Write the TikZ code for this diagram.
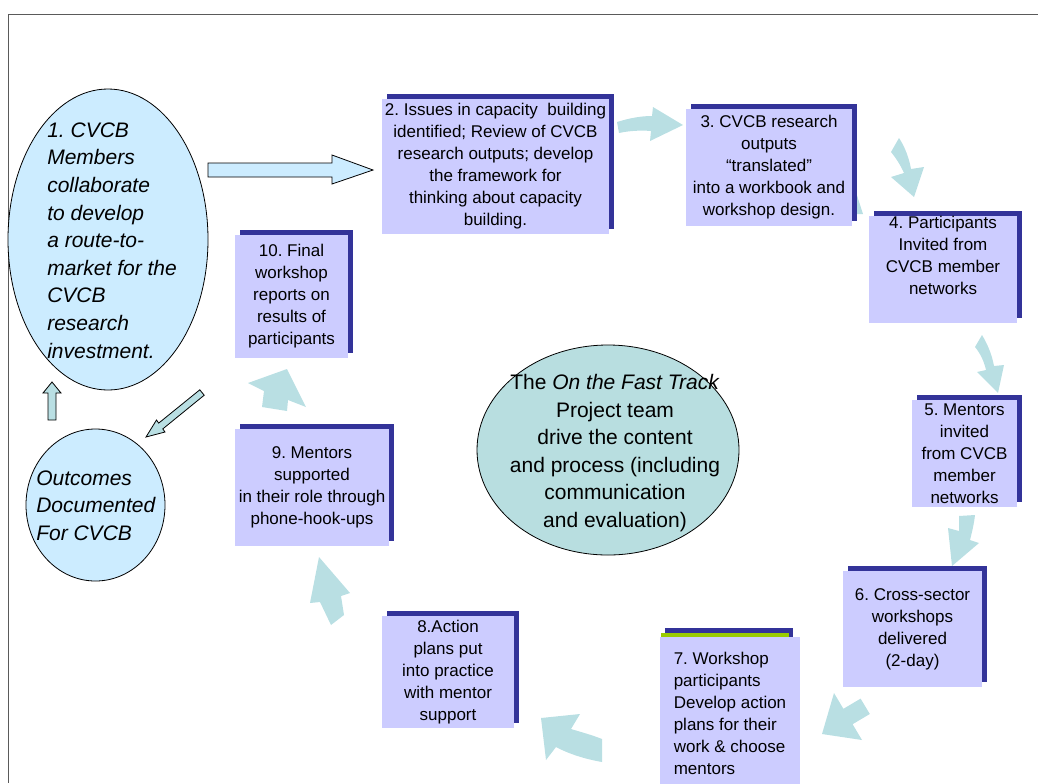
\documentclass[tikz,border=0pt]{standalone}
\usepackage{fontspec}
\setmainfont{Liberation Sans}
\usetikzlibrary{shapes.geometric,shadows}
\definecolor{boxfill}{RGB}{204,204,255}
\definecolor{boxshadow}{RGB}{51,51,153}
\definecolor{flowteal}{RGB}{185,223,227}
\definecolor{bubble}{RGB}{204,236,255}
\definecolor{teamteal}{RGB}{184,222,224}
\definecolor{stripegreen}{RGB}{153,204,0}
\definecolor{framegray}{RGB}{90,90,90}
\frenchspacing
\begin{document}
\begin{tikzpicture}[x=0.75pt,y=-0.75pt,
        stepbox/.style={fill=boxfill, inner sep=0pt, align=center, font={\fontsize{12.75}{16.5}\selectfont}},
        shadowbox/.style={stepbox, drop shadow={shadow xshift=3.75pt, shadow yshift=3.75pt, fill=boxshadow, opacity=1}},
        bubbletext/.style={inner sep=0pt, align=left, font={\fontsize{15.75}{20.7}\selectfont\itshape}},
        bubble/.style={ellipse, draw, line width=0.6pt, inner sep=0pt}]
    \useasboundingbox (0,0) rectangle (1038,783);
    \draw[framegray, line width=0.75pt] (1038,14) -- (8,14) -- (8,783);

    % turning arrows round the cycle
    \fill[flowteal] (852,180) -- (863,214) -- (852,214) -- cycle;
    \fill[flowteal] (617,122) .. controls (630,118) and (641,116) .. (652,116) -- (653,107) -- (683,125) -- (650,141) -- (651,131) .. controls (640,130) and (628,131) .. (619,133) -- cycle;
    \fill[flowteal] (891,152) -- (899,138) .. controls (905,147) and (909,158) .. (911,169) -- (924,167) -- (914,197) -- (891,177) -- (904,173) .. controls (901,166) and (896,158) .. (891,152) -- cycle;
    \fill[flowteal] (975,347) -- (982,335) .. controls (988,345) and (992,355) .. (994,366) -- (1004,365) -- (998,393) -- (977,372) -- (986,370) .. controls (984,361) and (980,353) .. (975,347) -- cycle;
    \fill[flowteal] (959,516) -- (975,515) .. controls (974,524) and (972,532) .. (970,540) -- (979,543) -- (952,566) -- (948,528) -- (959,531) .. controls (959,526) and (959,521) .. (959,516) -- cycle;
    \fill[flowteal] (822,734) -- (834,693) -- (843.4,708.8) -- (860.6,698.6) -- (869.8,714) -- (852.6,724.2) -- (862,740) -- cycle;
    \fill[flowteal] (541,718) -- (580,714) -- (571,729) .. controls (581,732) and (592,735) .. (602,739) -- (602,762) .. controls (585,759) and (569,754) .. (556,747) -- (546,760) -- cycle;
    \fill[flowteal] (319,557) -- (350,593) -- (341,596) -- (344,615) -- (331,625) -- (320,602) -- (310,603) -- cycle;
    \fill[flowteal] (287,369) -- (306,407) -- (288,400) -- (287,411) -- (262,407) -- (264,391) -- (248,383) -- cycle;

    \draw[fill=bubble, line width=0.6pt] (208,163) -- (332,163) -- (332,155) -- (373,170) -- (332,184) -- (332,177) -- (208,177) -- cycle;
    \draw[fill=flowteal, line width=0.6pt] (48,420) -- (48,393) -- (43,393) -- (52,382) -- (61,393) -- (56,393) -- (56,420) -- cycle;
    \draw[fill=flowteal, line width=0.6pt] (199.8,389.8) -- (158.7,423.1) -- (156.5,420) -- (146,437) -- (165,432) -- (162.8,428.9) -- (204.2,395.2) -- cycle;

    \node[bubble, fill=bubble, minimum width=150pt, minimum height=225.75pt] (members) at (108,239.5) {};
    \node[bubbletext, anchor=west] (memberstext) at (47,240.5) {1. CVCB\\Members\\collaborate\\to develop\\a route-to-\\market for the\\CVCB\\research\\investment.};
    \node[bubble, fill=bubble, minimum width=104.25pt, minimum height=114pt] (outcomes) at (95.5,505) {};
    \node[bubbletext, anchor=west] (outcomestext) at (36,505.5) {Outcomes\\Documented\\For CVCB};
    \node[bubble, fill=teamteal, minimum width=196.5pt, minimum height=157.5pt] (team) at (608,450) {};
    \node[bubbletext, align=center, font={\fontsize{15.75}{20.7}\selectfont}] (teamtext) at (615,453) {The \textit{On the Fast Track}\\Project team\\drive the content\\and process (including\\communication\\and evaluation)};

    \node[shadowbox, minimum width=170.25pt, minimum height=101.25pt] (issues) at (495.5,166.5) {2. Issues in capacity~ building\\identified; Review of CVCB\\research outputs; develop\\the framework for\\thinking about capacity\\building.};
    \node[shadowbox, minimum width=124.5pt, minimum height=87.75pt] (translated) at (769,167.5) {3. CVCB research\\outputs\\“translated”\\into a workbook and\\workshop design.};
    \node[shadowbox, minimum width=111pt, minimum height=80.25pt] (participants) at (943,269.5) {4. Participants\\Invited from\\CVCB member\\networks\\\strut};
    \node[shadowbox, minimum width=78.75pt, minimum height=80.25pt] (mentors) at (964.5,453.5) {5. Mentors\\invited\\from CVCB\\member\\networks};
    \node[shadowbox, minimum width=104.25pt, minimum height=87pt] (workshops) at (912.5,629) {6. Cross-sector\\workshops\\delivered\\(2-day)};
    \fill[boxshadow] (665,628) rectangle (793,640);
    \fill[stripegreen] (661,633) rectangle (789,640);
    \node[stepbox, align=left, minimum width=105pt, minimum height=114.75pt] (plans) at (730,713.5) {7. Workshop\\participants\\Develop action\\plans for their\\work \& choose\\mentors};
    \node[shadowbox, minimum width=99pt, minimum height=84pt] (practice) at (448,672) {8.Action\\plans put\\into practice\\with mentor\\support};
    \node[shadowbox, minimum width=115.5pt, minimum height=87.75pt] (support) at (312,487.5) {9. Mentors\\supported\\in their role through\\phone-hook-ups};
    \node[shadowbox, minimum width=84.75pt, minimum height=92.25pt] (reports) at (291.5,296.5) {10. Final\\workshop\\reports on\\results of\\participants};
\end{tikzpicture}
\end{document}
